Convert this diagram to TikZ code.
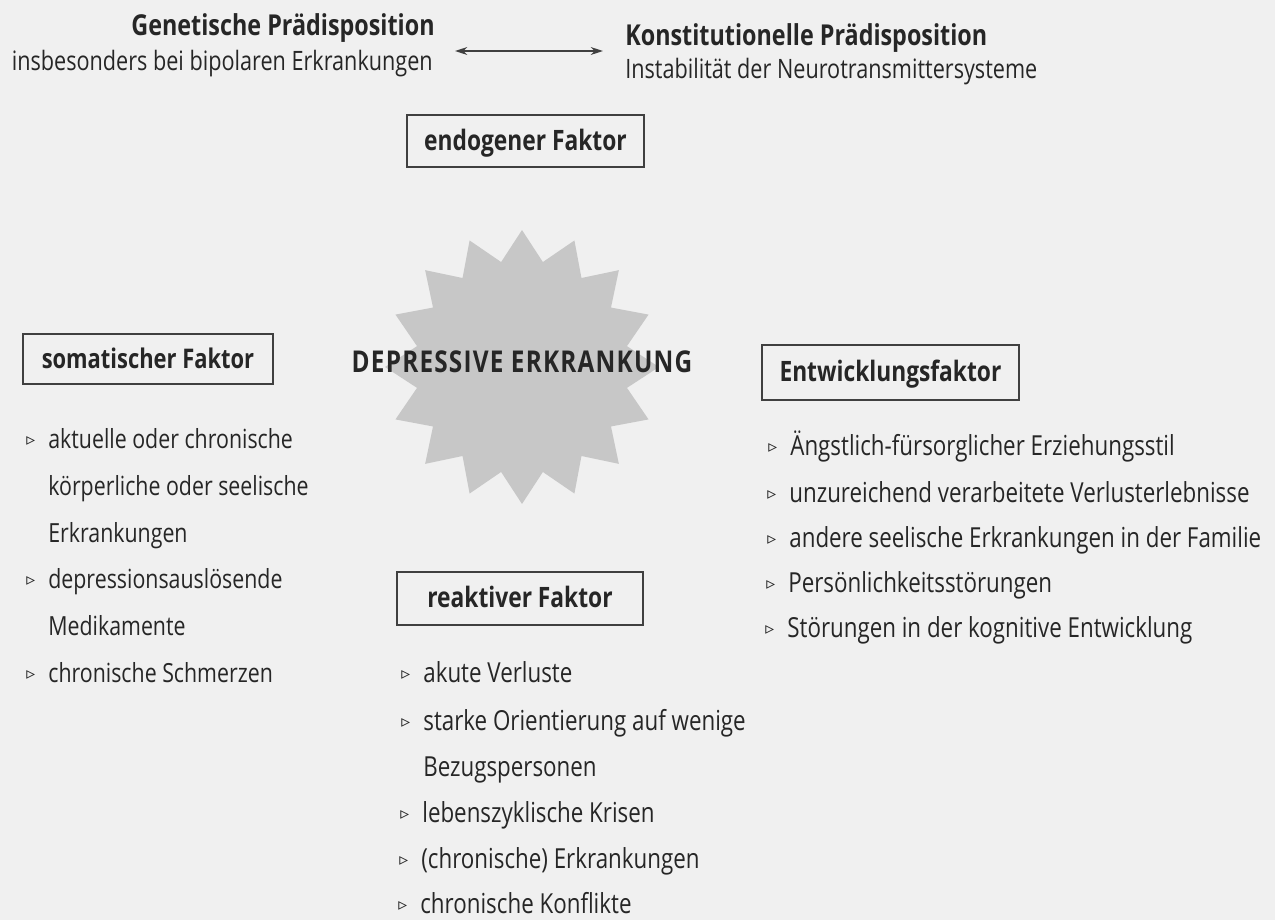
\documentclass[tikz,border=0pt]{standalone}
\usepackage{fontspec}
\setmainfont{Open Sans}[FakeStretch=0.81]
\newfontfamily\bulfont{DejaVu Sans}
\usetikzlibrary{arrows.meta,shapes.geometric}
\begin{document}
\begin{tikzpicture}[x=0.02cm,y=-0.02cm,
  every node/.style={inner sep=0pt,text=black!85},
  txt/.style={anchor=base west,font=\fontsize{15.7}{18}\selectfont},
  stxt/.style={anchor=base west,font=\fontsize{15.0}{18}\selectfont},
  head/.style={font=\fontsize{16.4}{19}\bfseries\selectfont},
  sub/.style={font=\fontsize{15.2}{18}\selectfont},
  factorbox/.style={draw=black!75,line width=0.9pt,font=\fontsize{16}{19}\bfseries\selectfont,
     text height=10.6pt,text depth=0pt,align=center},
  arr/.style={black!75,line width=0.8pt,{Stealth[length=7pt,width=4.5pt]}-{Stealth[length=7pt,width=4.5pt]}}
]
\newcommand{\bl}{\llap{{\bulfont\fontsize{10}{11}\selectfont\raisebox{1.5pt}{▹}}\hspace{7.5pt}}}
\useasboundingbox[fill=black!6] (0,0) rectangle (1275,920);

% top heads
\node[head,anchor=base east] (gen) at (435,35) {Genetische Prädisposition};
\node[sub,anchor=base east] (gensub) at (433,70) {insbesonders bei bipolaren Erkrankungen};
\node[head,anchor=base west] (kon) at (625,45) {Konstitutionelle Prädisposition};
\node[sub,anchor=base west] (konsub) at (625,78) {Instabilität der Neurotransmittersysteme};
\coordinate (ay) at (0,51);
\draw[arr] ([xshift=0.44cm]gensub.east |- ay) -- ([xshift=-0.44cm]kon.west |- ay);

% boxes
\node[factorbox,minimum width=4.74cm,minimum height=1.04cm] (endo) at (525.5,141) {endogener Faktor};
\node[factorbox,minimum width=5.0cm,minimum height=1.0cm,font=\fontsize{15.4}{19}\bfseries\selectfont] (soma) at (148,359) {somatischer Faktor};
\node[factorbox,minimum width=5.14cm,minimum height=1.1cm] (entw) at (890.5,372.5) {Entwicklungsfaktor};
\node[factorbox,minimum width=4.92cm,minimum height=1.06cm] (reak) at (520,598.5) {reaktiver Faktor};

% star
\node[star,star points=16,star point ratio=1.28,minimum size=5.48cm,fill=black!22,draw=none] (star) at (522,367) {};
\node[font=\fontsize{17.1}{20}\bfseries\selectfont\addfontfeatures{LetterSpace=4}] (dep) at (522,362) {DEPRESSIVE ERKRANKUNG};

% somatic list
\node[stxt] (s1) at (48,448) {\bl aktuelle oder chronische};
\node[stxt] (s2) at (48,495) {körperliche oder seelische};
\node[stxt] (s3) at (48,542) {Erkrankungen};
\node[stxt] (s4) at (48,588) {\bl depressionsauslösende};
\node[stxt] (s5) at (48,635) {Medikamente};
\node[stxt] (s6) at (48,682) {\bl chronische Schmerzen};

% reactive list
\node[txt] (r1) at (423,682) {\bl akute Verluste};
\node[txt] (r2) at (423,730) {\bl starke Orientierung auf wenige};
\node[txt] (r3) at (423,776) {Bezugspersonen};
\node[txt] (r4) at (422,822) {\bl lebenszyklische Krisen};
\node[txt] (r5) at (421,868) {\bl (chronische) Erkrankungen};
\node[txt] (r6) at (420,913) {\bl chronische Konflikte};

% development list
\node[txt] (e1) at (790,455) {\bl Ängstlich-fürsorglicher Erziehungsstil};
\node[txt] (e2) at (789,502) {\bl unzureichend verarbeitete Verlusterlebnisse};
\node[txt] (e3) at (789,547) {\bl andere seelische Erkrankungen in der Familie};
\node[txt] (e4) at (788,592) {\bl Persönlichkeitsstörungen};
\node[txt] (e5) at (787,637) {\bl Störungen in der kognitive Entwicklung};
\end{tikzpicture}
\end{document}
